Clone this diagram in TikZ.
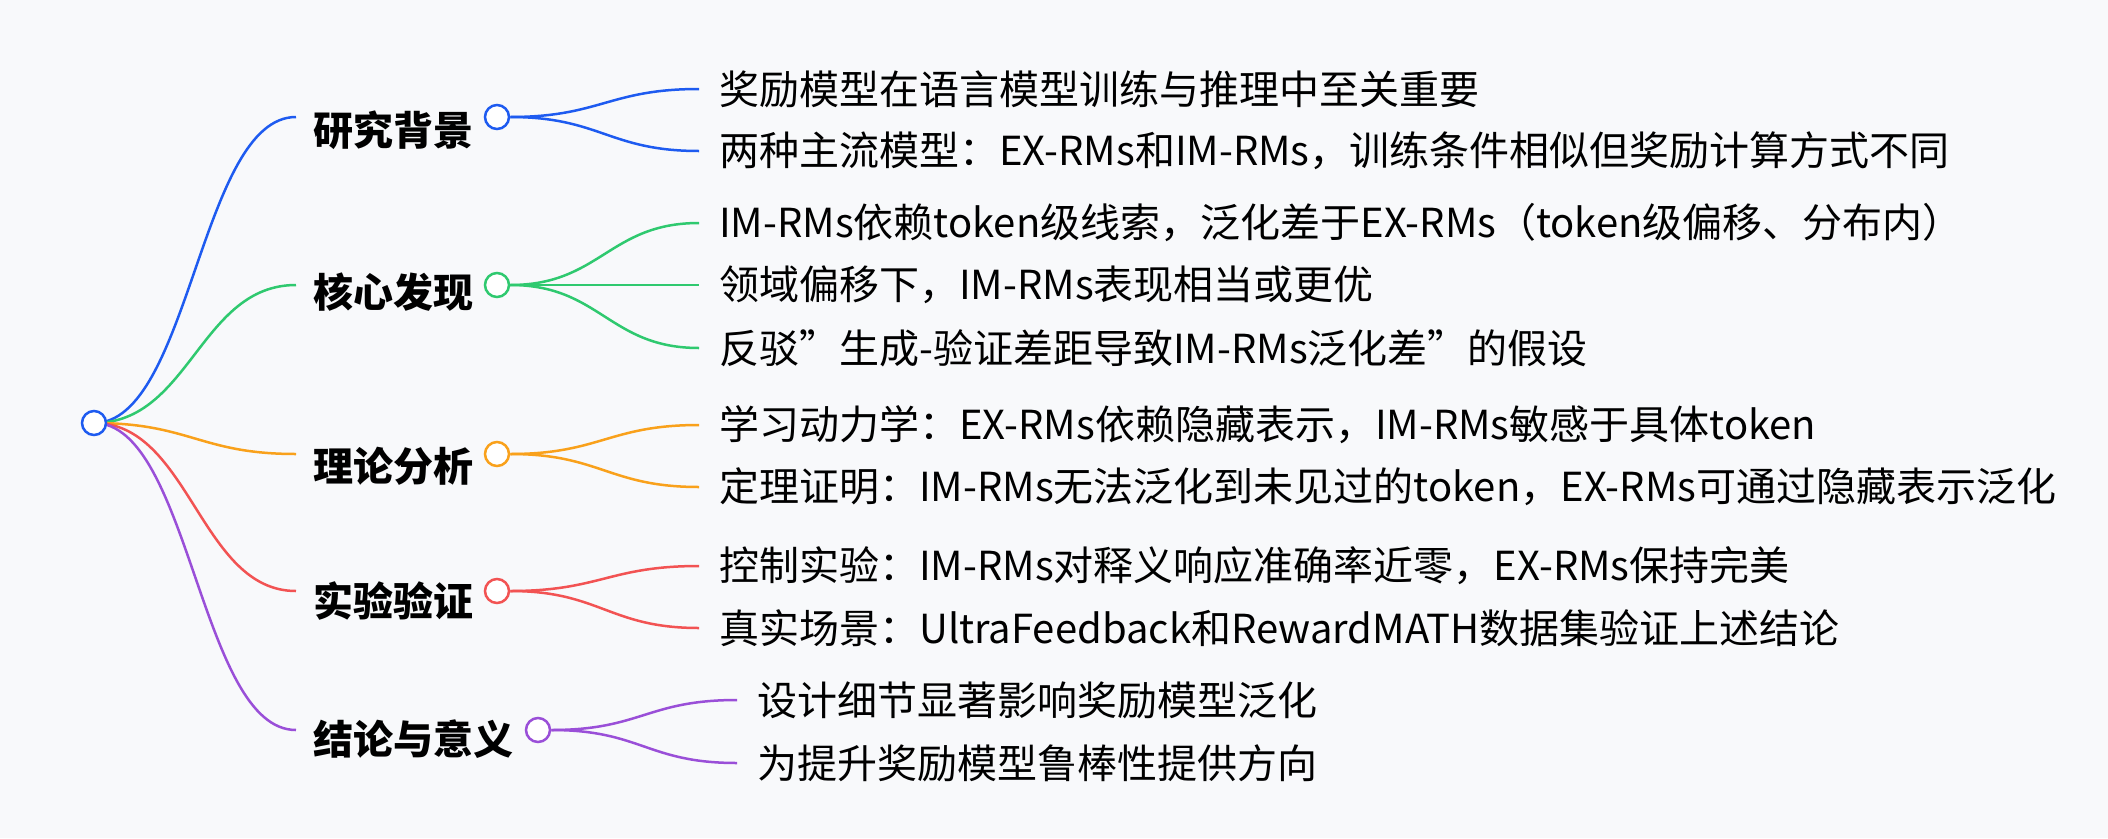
\documentclass[tikz,border=0pt]{standalone}
\usepackage{fontspec}
\setmainfont{Noto Sans CJK SC}
\usetikzlibrary{calc}
\begin{document}
\begin{tikzpicture}[x=1pt,y=-1pt,
  lbl/.style={anchor=west,font=\fontsize{40}{46}\selectfont\bfseries,inner sep=0},
  txt/.style={anchor=west,font=\fontsize{40}{46}\selectfont,inner sep=0},
  dot/.style={circle,draw,line width=2.5pt,fill=white,minimum size=24,inner sep=0},
  ln/.style={line width=2.5pt}]
\fill[fill={rgb,255:red,248;green,249;blue,251}] (0,0) rectangle (2108,838);
\definecolor{cb}{HTML}{1E5BF0}\definecolor{cg}{HTML}{2FC96F}\definecolor{co}{HTML}{F9A11B}
\definecolor{cr}{HTML}{F25353}\definecolor{cp}{HTML}{9A4FD8}
\coordinate (r) at (94,423);
% branches
\foreach \n/\c/\ly/\cy/\cx/\t in {a/cb/130/117/497/研究背景,b/cg/292/285/497/核心发现,c/co/466/454/497/理论分析,d/cr/601/591/497/实验验证,e/cp/739/730/538/结论与意义}{
  \coordinate (\n s) at (296,\cy);
  \node[lbl] (\n l) at (313,\ly) {\t};
  \draw[ln,\c] (r) .. controls (190,423) and (200,\cy) .. (\n s);
  \node[dot,draw=\c] (\n c) at (\cx,\cy) {};
}
\node[dot,draw=cb] (root) at (r) {};
% children
\foreach \p/\c/\x/\y/\t in {
 a/cb/699/89/奖励模型在语言模型训练与推理中至关重要,
 a/cb/699/151/两种主流模型：EX-RMs和IM-RMs，训练条件相似但奖励计算方式不同,
 b/cg/699/223/IM-RMs依赖token级线索，泛化差于EX-RMs（token级偏移、分布内）,
 b/cg/699/285/领域偏移下，IM-RMs表现相当或更优,
 b/cg/699/348/反驳\symbol{34}生成-验证差距导致IM-RMs泛化差\symbol{34}的假设,
 c/co/699/425/学习动力学：EX-RMs依赖隐藏表示，IM-RMs敏感于具体token,
 c/co/699/487/定理证明：IM-RMs无法泛化到未见过的token，EX-RMs可通过隐藏表示泛化,
 d/cr/699/566/控制实验：IM-RMs对释义响应准确率近零，EX-RMs保持完美,
 d/cr/699/628/真实场景：UltraFeedback和RewardMATH数据集验证上述结论,
 e/cp/737/700/设计细节显著影响奖励模型泛化,
 e/cp/737/763/为提升奖励模型鲁棒性提供方向}{
  \node[txt] (t\x\y) at (\x+20,\y) {\t};
  \coordinate (e\x\y) at (\x,\y);
  \draw[ln,\c] (\p c.east) .. controls ($(\p c.east)+(90,0)$) and ($(e\x\y)+(-90,0)$) .. (e\x\y);
}
\end{tikzpicture}
\end{document}
